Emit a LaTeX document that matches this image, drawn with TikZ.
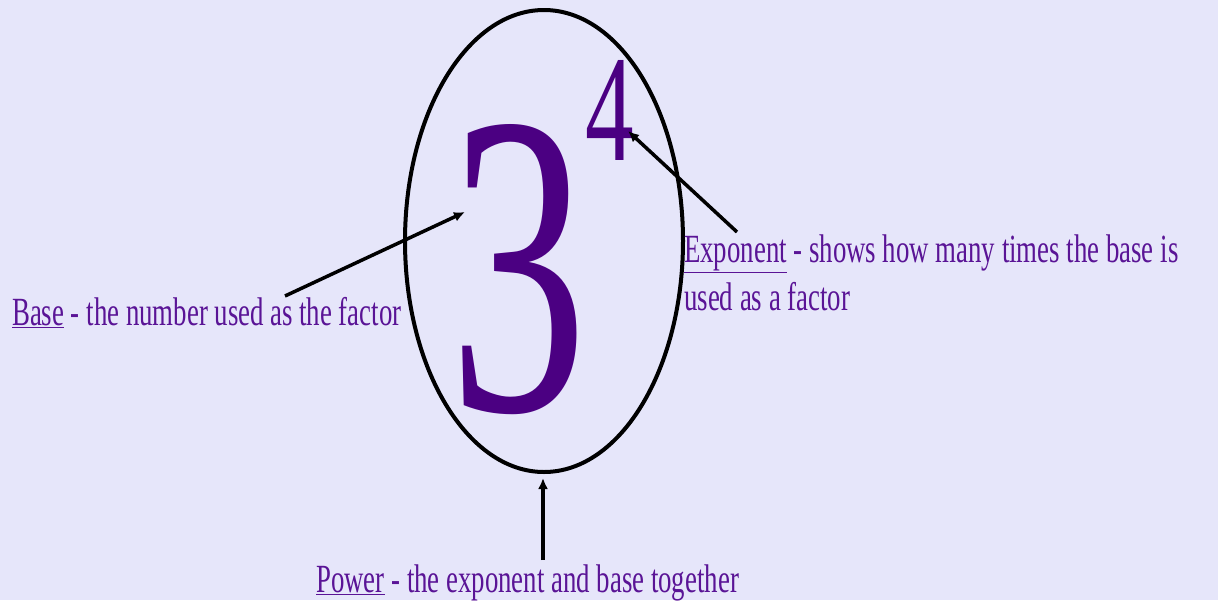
\documentclass[tikz,border=0pt]{standalone}
\usepackage{fontspec}
\setmainfont{Liberation Serif}[FakeStretch=0.67]
\newfontfamily\digitfont{Liberation Serif}[FakeStretch=0.64]
\usetikzlibrary{arrows.meta,shapes.geometric}
\definecolor{bgcol}{HTML}{E6E6FA}
\definecolor{txtcol}{HTML}{5A1496}
\definecolor{digcol}{HTML}{4B0082}
\tikzset{
  lbl/.style={anchor=base west, inner sep=0pt, text=txtcol, font=\fontsize{40}{48}\selectfont},
  ptr/.style={line width=3.5pt, -{Latex[length=11pt,width=10pt]}},
}
\newcommand{\uline}[1]{\underline{#1}}
\begin{document}
\begin{tikzpicture}[x=1pt,y=-1pt]
\fill[bgcol] (0,0) rectangle (1218,600);
\useasboundingbox (0,0) rectangle (1218,600);
\node[draw, line width=4pt, ellipse, minimum width=278pt, minimum height=462pt, inner sep=0pt] (ell) at (544,241) {};
\node[anchor=base, inner sep=0pt, text=digcol, font=\digitfont\fontsize{432}{432}\selectfont] (three) at (519,410) {3};
\node[anchor=base, inner sep=0pt, text=digcol, font=\digitfont\fontsize{152}{152}\selectfont] (four) at (610,160) {4};
\node[lbl] (base) at (12,325) {\uline{Base} - the number used as the factor};
\node[lbl] (exp1) at (684,262) {\uline{Exponent} - shows how many times the base is};
\node[lbl] (exp2) at (684,310) {used as a factor};
\node[lbl] (power) at (316,592) {\uline{Power} - the exponent and base together};
\coordinate (bs) at (285,296);
\coordinate (be) at (465,212);
\coordinate (es) at (737,232);
\coordinate (ee) at (628,131);
\coordinate (ps) at (543,560);
\coordinate (pe) at (543,478);
\draw[ptr] (bs) -- (be);
\draw[ptr] (es) -- (ee);
\draw[ptr] (ps) -- (pe);
\end{tikzpicture}
\end{document}
